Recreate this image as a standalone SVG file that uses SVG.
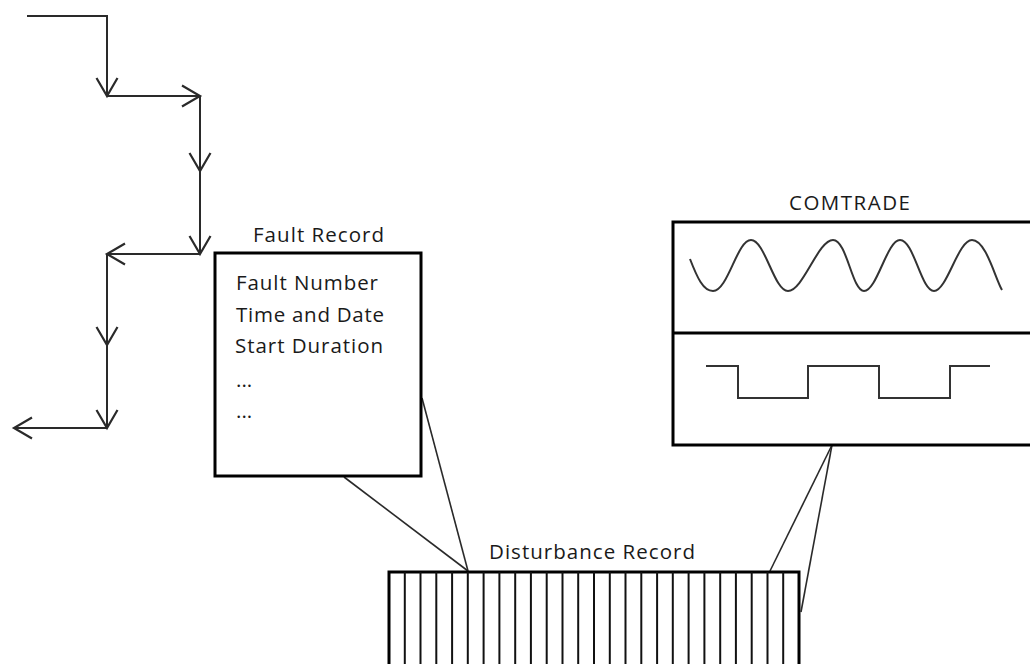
<svg xmlns="http://www.w3.org/2000/svg" width="1030" height="664" viewBox="0 0 1030 664">
  <defs>
    <marker id="vee" markerUnits="userSpaceOnUse" markerWidth="24" markerHeight="26" refX="20" refY="13" orient="auto" overflow="visible">
      <path d="M2,2.5 L20,13 L2,23.5" fill="none" stroke="#2a2a2a" stroke-width="2.2"/>
    </marker>
    <style>
      .flow { fill: none; stroke: #2a2a2a; stroke-width: 2; marker-end: url(#vee); }
      .link { fill: none; stroke: #2a2a2a; stroke-width: 1.6; }
      .box { fill: #ffffff; stroke: #000000; stroke-width: 3; }
      .rule { fill: none; stroke: #000000; stroke-width: 3; }
      .cell { stroke: #111111; stroke-width: 2; }
      .wave { fill: none; stroke: #333333; stroke-width: 2; }
      .lbl { font-family: "Open Sans", "Liberation Sans", sans-serif; font-size: 20.5px; font-weight: 500; fill: #1a1a1a; }
    </style>
  </defs>

  <!-- stepped flow of arrows and the lines tying the records together -->
  <g id="connectors">
    <path class="flow" d="M27,16 H107 V96"/>
    <path class="flow" d="M107,96 H200"/>
    <path class="flow" d="M200,96 V171"/>
    <path class="flow" d="M200,171 V254"/>
    <path class="flow" d="M200,254 H107"/>
    <path class="flow" d="M107,254 V345"/>
    <path class="flow" d="M107,345 V428"/>
    <path class="flow" d="M107,428 H14"/>

    <line class="link" x1="422" y1="398" x2="468" y2="571"/>
    <line class="link" x1="344" y1="477" x2="468" y2="571"/>
    <line class="link" x1="832" y1="445" x2="770" y2="571"/>
    <line class="link" x1="832" y1="445" x2="801" y2="612"/>
  </g>

  <!-- Fault Record -->
  <g id="fault-record">
    <text class="lbl" x="253" y="242" textLength="131" lengthAdjust="spacing">Fault Record</text>
    <rect class="box" x="215" y="253" width="206" height="223"/>
    <text class="lbl" x="236" y="290" textLength="142" lengthAdjust="spacing">Fault Number</text>
    <text class="lbl" x="236" y="321.5" textLength="148" lengthAdjust="spacing">Time and Date</text>
    <text class="lbl" x="235" y="353" textLength="148" lengthAdjust="spacing">Start Duration</text>
    <text class="lbl" x="236" y="387">...</text>
    <text class="lbl" x="236" y="418">...</text>
  </g>

  <!-- COMTRADE -->
  <g id="comtrade">
    <text class="lbl" x="789" y="210" textLength="121" lengthAdjust="spacing">COMTRADE</text>
    <rect class="box" x="673" y="222" width="370" height="223"/>
    <line class="rule" x1="673" y1="333" x2="1043" y2="333"/>
    <path class="wave" d="M690,259 C697,277 703,291 713,291 C728,291 737,240 751,240 C765,240 774,291 788,291 C803,291 818,240 833,240 C847,240 852,291 864,291 C877,291 887,240 900,240 C914,240 921,291 934,291 C947,291 958,240 972,240 C986,240 995,278 1002,290"/>
    <path class="wave" d="M706,366 H738 V398 H808 V366 H879 V398 H950 V366 H990"/>
  </g>

  <!-- Disturbance Record -->
  <g id="disturbance-record">
    <text class="lbl" x="489" y="559" textLength="206" lengthAdjust="spacing">Disturbance Record</text>
    <rect class="box" x="389" y="572" width="410" height="110"/>
    <g class="cell">
      <line x1="404.8" y1="572" x2="404.8" y2="664"/>
      <line x1="420.5" y1="572" x2="420.5" y2="664"/>
      <line x1="436.3" y1="572" x2="436.3" y2="664"/>
      <line x1="452.1" y1="572" x2="452.1" y2="664"/>
      <line x1="467.8" y1="572" x2="467.8" y2="664"/>
      <line x1="483.6" y1="572" x2="483.6" y2="664"/>
      <line x1="499.4" y1="572" x2="499.4" y2="664"/>
      <line x1="515.2" y1="572" x2="515.2" y2="664"/>
      <line x1="530.9" y1="572" x2="530.9" y2="664"/>
      <line x1="546.7" y1="572" x2="546.7" y2="664"/>
      <line x1="562.5" y1="572" x2="562.5" y2="664"/>
      <line x1="578.2" y1="572" x2="578.2" y2="664"/>
      <line x1="594.0" y1="572" x2="594.0" y2="664"/>
      <line x1="609.8" y1="572" x2="609.8" y2="664"/>
      <line x1="625.5" y1="572" x2="625.5" y2="664"/>
      <line x1="641.3" y1="572" x2="641.3" y2="664"/>
      <line x1="657.1" y1="572" x2="657.1" y2="664"/>
      <line x1="672.8" y1="572" x2="672.8" y2="664"/>
      <line x1="688.6" y1="572" x2="688.6" y2="664"/>
      <line x1="704.4" y1="572" x2="704.4" y2="664"/>
      <line x1="720.2" y1="572" x2="720.2" y2="664"/>
      <line x1="735.9" y1="572" x2="735.9" y2="664"/>
      <line x1="751.7" y1="572" x2="751.7" y2="664"/>
      <line x1="767.5" y1="572" x2="767.5" y2="664"/>
      <line x1="783.2" y1="572" x2="783.2" y2="664"/>
    </g>
  </g>
</svg>
